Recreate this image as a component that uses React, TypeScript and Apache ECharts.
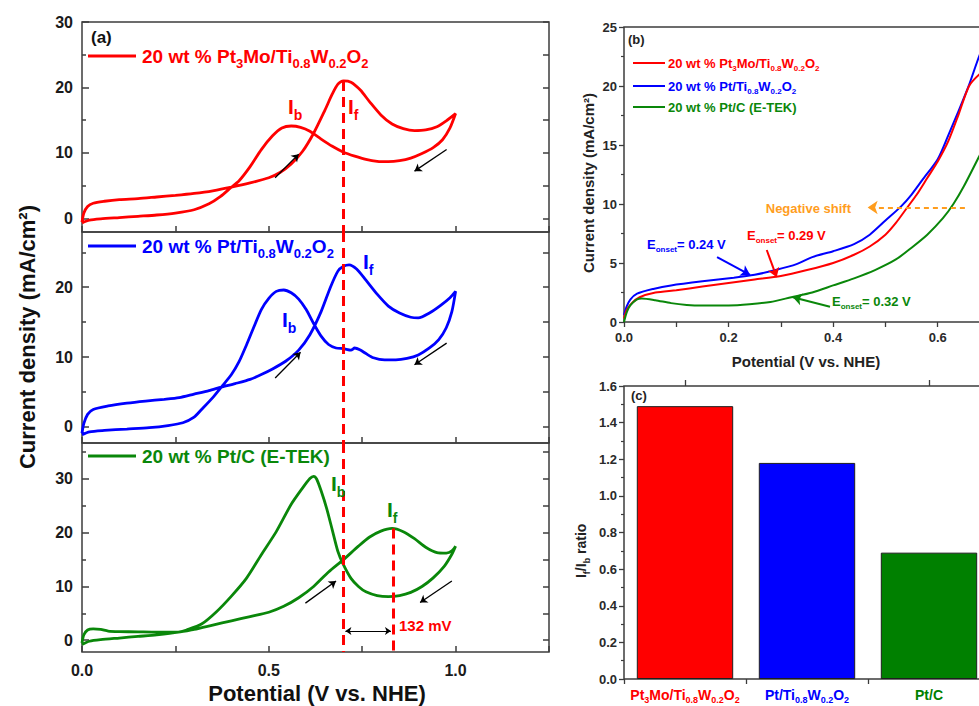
import React, { useEffect, useRef } from 'react';
import * as echarts from 'echarts';

// ---------- Panel (a): cyclic voltammograms (x: V vs NHE, y: mA/cm2) ----------
const cvRedForward: number[][] = [
  [0.0, -0.6], [0.005, 0.8], [0.015, 1.8], [0.03, 2.3], [0.06, 2.6], [0.1, 2.85], [0.15, 3.0], [0.2, 3.25],
  [0.25, 3.5], [0.3, 3.8], [0.35, 4.2], [0.4, 4.75], [0.45, 5.4], [0.5, 6.2], [0.53, 7.0], [0.56, 8.3],
  [0.59, 10.2], [0.62, 13.0], [0.65, 16.5], [0.67, 19.0], [0.685, 20.5], [0.7, 21.0], [0.72, 20.8],
  [0.745, 19.6], [0.77, 17.8], [0.8, 15.8], [0.83, 14.4], [0.86, 13.7], [0.89, 13.4], [0.92, 13.5],
  [0.95, 14.0], [0.975, 14.9], [1.0, 16.0],
];
const cvRedBackward: number[][] = [
  [1.0, 16.0], [0.985, 13.8], [0.965, 12.0], [0.94, 10.8], [0.91, 9.9], [0.88, 9.2], [0.85, 8.8],
  [0.82, 8.65], [0.79, 8.7], [0.76, 9.0], [0.73, 9.5], [0.7, 10.1], [0.67, 11.0], [0.64, 12.1],
  [0.61, 13.3], [0.585, 13.9], [0.56, 14.1], [0.535, 13.8], [0.51, 12.6], [0.48, 10.5], [0.45, 7.9],
  [0.42, 5.7], [0.4, 4.75], [0.37, 3.3], [0.34, 2.2], [0.3, 1.3], [0.25, 0.8], [0.2, 0.5], [0.15, 0.3],
  [0.1, 0.1], [0.05, -0.1], [0.02, -0.3], [0.0, -0.7],
];
const cvBlueForward: number[][] = [
  [0.0, -0.9], [0.005, 0.5], [0.015, 1.8], [0.03, 2.5], [0.07, 3.0], [0.12, 3.4], [0.17, 3.7], [0.22, 3.95],
  [0.26, 4.2], [0.3, 4.7], [0.34, 5.2], [0.373, 5.7], [0.41, 6.2], [0.45, 6.8], [0.48, 7.5], [0.51, 8.3],
  [0.545, 9.4], [0.58, 11.0], [0.61, 13.2], [0.64, 16.5], [0.665, 20.0], [0.685, 22.3], [0.7, 23.0],
  [0.715, 23.2], [0.735, 22.6], [0.76, 21.0], [0.79, 19.0], [0.82, 17.3], [0.85, 16.3], [0.88, 15.7],
  [0.9, 15.6], [0.93, 16.3], [0.96, 17.4], [0.985, 18.5], [1.0, 19.4],
];
const cvBlueBackward: number[][] = [
  [1.0, 19.4], [0.99, 16.5], [0.975, 14.2], [0.955, 12.5], [0.93, 11.3], [0.9, 10.3], [0.87, 9.8],
  [0.84, 9.6], [0.81, 9.6], [0.78, 9.9], [0.76, 10.5], [0.745, 11.0], [0.73, 11.3], [0.72, 11.0],
  [0.7, 11.2], [0.68, 11.3], [0.66, 11.8], [0.64, 13.0], [0.62, 14.8], [0.6, 16.8], [0.58, 18.3],
  [0.56, 19.2], [0.54, 19.6], [0.52, 19.4], [0.5, 18.4], [0.48, 16.8], [0.46, 14.3], [0.44, 11.7],
  [0.42, 9.3], [0.4, 7.5], [0.373, 5.7], [0.35, 4.2], [0.32, 2.5], [0.3, 1.4], [0.27, 0.6], [0.23, 0.2],
  [0.18, -0.1], [0.12, -0.3], [0.06, -0.5], [0.02, -0.7], [0.0, -1.1],
];
const cvGreenForward: number[][] = [
  [0.0, -0.5], [0.005, 1.0], [0.015, 1.9], [0.03, 2.1], [0.05, 2.0], [0.07, 1.7], [0.1, 1.6], [0.15, 1.55],
  [0.2, 1.5], [0.258, 1.5], [0.3, 2.0], [0.35, 2.8], [0.4, 3.6], [0.45, 4.4], [0.5, 5.2], [0.54, 6.3],
  [0.58, 7.9], [0.62, 10.0], [0.66, 12.7], [0.7, 15.0], [0.74, 17.5], [0.77, 19.2], [0.8, 20.3],
  [0.83, 20.8], [0.86, 20.2], [0.89, 18.9], [0.92, 17.3], [0.95, 16.3], [0.975, 16.2], [0.99, 16.6],
  [1.0, 17.5],
];
const cvGreenBackward: number[][] = [
  [1.0, 17.5], [0.99, 16.0], [0.97, 13.8], [0.94, 11.6], [0.91, 10.0], [0.88, 8.9], [0.85, 8.3],
  [0.82, 8.1], [0.79, 8.3], [0.76, 9.0], [0.74, 10.0], [0.72, 11.5], [0.7, 14.0], [0.685, 16.5],
  [0.67, 20.5], [0.655, 24.5], [0.64, 27.8], [0.628, 30.0], [0.62, 30.5], [0.61, 30.1], [0.59, 28.3],
  [0.56, 25.3], [0.52, 20.2], [0.48, 15.9], [0.44, 11.5], [0.4, 8.2], [0.36, 5.3], [0.32, 3.0],
  [0.28, 1.9], [0.258, 1.5], [0.2, 1.0], [0.15, 0.7], [0.1, 0.4], [0.05, 0.1], [0.02, -0.2], [0.0, -0.8],
];

// y ranges and ticks of the three stacked sub-panels of (a)
const aTopRange = [-2.1, 30];
const aMidRange = [-2.3, 27.9];
const aBotRange = [-2.2, 36.7];
const aTopLabels = [0, 10, 20, 30];
const aTopMinor = [5, 15, 25];
const aMidLabels = [0, 10, 20];
const aMidMinor = [5, 15, 25];
const aBotLabels = [0, 10, 20, 30];
const aBotMinor = [5, 15, 25, 35];

// peak potentials (dashed markers)
const eIb = 0.7;
const eIf = 0.832;

// ---------- Panel (b): linear sweeps ----------
const lsvRed: number[][] = [
  [0, 0.3], [0.005, 1.0], [0.015, 1.6], [0.03, 2.1], [0.06, 2.5], [0.1, 2.7], [0.15, 3.0], [0.2, 3.3],
  [0.25, 3.6], [0.3, 3.9], [0.35, 4.4], [0.4, 5.0], [0.44, 5.7], [0.47, 6.4], [0.5, 7.4], [0.52, 8.4],
  [0.54, 9.6], [0.56, 10.8], [0.58, 12.2], [0.6, 13.6], [0.62, 15.3], [0.64, 17.6], [0.66, 20.0],
  [0.68, 21.0], [0.7, 21.6],
];
const lsvBlue: number[][] = [
  [0, 0.6], [0.005, 1.3], [0.012, 1.9], [0.025, 2.4], [0.056, 2.8], [0.09, 3.1], [0.15, 3.45], [0.21, 3.75],
  [0.25, 4.0], [0.29, 4.4], [0.33, 4.9], [0.36, 5.5], [0.4, 6.0], [0.44, 6.6], [0.47, 7.4], [0.5, 8.6],
  [0.53, 9.8], [0.55, 10.8], [0.57, 12.0], [0.6, 13.8], [0.62, 15.8], [0.64, 17.9], [0.66, 20.1],
  [0.68, 22.6], [0.7, 24.5],
];
const lsvGreen: number[][] = [
  [0, 0.0], [0.005, 0.8], [0.012, 1.4], [0.024, 1.9], [0.034, 2.0], [0.06, 1.85], [0.09, 1.6], [0.12, 1.45],
  [0.15, 1.4], [0.2, 1.4], [0.24, 1.5], [0.28, 1.7], [0.32, 2.1], [0.36, 2.5], [0.4, 3.1], [0.44, 3.7],
  [0.48, 4.4], [0.52, 5.3], [0.55, 6.3], [0.58, 7.4], [0.61, 8.8], [0.63, 10.0], [0.65, 11.5],
  [0.68, 14.1], [0.7, 15.9],
];
const bXLabels = [0, 0.2, 0.4, 0.6];

// ---------- Panel (c): If/Ib ratio ----------
const barCategories = ['Pt3Mo/Ti0.8W0.2O2', 'Pt/Ti0.8W0.2O2', 'Pt/C'];
const barValues = [1.49, 1.18, 0.69];

const seriesNames = ['Pt3Mo/Ti0.8W0.2O2', 'Pt/Ti0.8W0.2O2', 'Pt/C (E-TEK)'];
const RED = '#ff0000';
const BLUE = '#0000ff';
const GREEN = '#0a870a';
const BAR_GREEN = '#008000';
const ORANGE = '#ff9d1e';
const AX = '#3c3c3c';
const FF = '"Liberation Sans", Arial, Helvetica, sans-serif';

type Part = [string, boolean];
function chem(s: string): Part[] {
  return s.split(/(\d+(?:\.\d+)?)/).filter((t) => t.length > 0).map((t) => [t, /^\d/.test(t)] as Part);
}
function richStr(parts: Part[], m: string, s: string) {
  return parts.map(([t, sub]) => `{${sub ? s : m}|${t}}`).join('');
}

function txt(x: number, y: number, parts: Part[], color: string, size: number, sub: number, opt: any = {}) {
  return {
    type: 'text',
    x,
    y,
    rotation: opt.rotation || 0,
    silent: true,
    z: 100,
    style: {
      text: richStr(parts, 'm', 's'),
      align: opt.align || 'left',
      verticalAlign: 'middle',
      rich: {
        m: { fontSize: size, fontWeight: 'bold', fontFamily: FF, fill: color, lineHeight: size + 2 },
        s: {
          fontSize: sub, fontWeight: 'bold', fontFamily: FF, fill: color, lineHeight: sub,
          padding: [Math.round(size * (opt.subDrop || 0.8)), 0, 0, 0],
        },
      },
    },
  };
}
function hline(x1: number, x2: number, y: number, color: string, w: number) {
  return { type: 'line', silent: true, z: 100, shape: { x1, y1: y, x2, y2: y }, style: { stroke: color, lineWidth: w } };
}

function seg(a: number[], b: number[], color: string, width: number, type: any, s0: string, s1: string, size = 8) {
  return [
    { coord: a, symbol: s0, symbolSize: size, lineStyle: { color, width, type }, itemStyle: { color } },
    { coord: b, symbol: s1, symbolSize: size, itemStyle: { color } },
  ];
}
function markLines(data: any[]) {
  return { silent: true, animation: false, label: { show: false }, emphasis: { disabled: true }, data };
}

function aYAxes(grid: number, range: number[], labels: number[], minors: number[]) {
  const base = {
    type: 'value', gridIndex: grid, min: range[0], max: range[1],
    splitLine: { show: false }, axisLine: { show: false, onZero: false },
  };
  const ts = { color: AX, width: 1.5 };
  return [
    {
      ...base, position: 'left',
      axisTick: { show: true, inside: true, length: 7, customValues: labels, lineStyle: ts },
      axisLabel: { show: true, customValues: labels, fontSize: 16, fontWeight: 'bold', fontFamily: FF, color: '#1a1a1a', margin: 9 },
    },
    {
      ...base, position: 'left',
      axisTick: { show: true, inside: true, length: 4, customValues: minors, lineStyle: ts },
      axisLabel: { show: false },
    },
    {
      ...base, position: 'right',
      axisTick: { show: true, inside: true, length: 6, customValues: [...labels, ...minors], lineStyle: ts },
      axisLabel: { show: false },
    },
  ];
}
function aXAxis(grid: number, labels: boolean) {
  return {
    type: 'value', gridIndex: grid, min: 0, max: 1.25, interval: 0.25,
    splitLine: { show: false }, axisLine: { show: false, onZero: false },
    axisTick: { show: true, inside: true, length: 6, lineStyle: { color: AX, width: 1.5 } },
    axisLabel: labels
      ? {
          show: true, fontSize: 16, fontWeight: 'bold', fontFamily: FF, color: '#1a1a1a', margin: 10,
          formatter: (v: number) => (Math.abs(v * 2 - Math.round(v * 2)) < 1e-6 && v <= 1.0001 ? v.toFixed(1) : ''),
        }
      : { show: false },
  };
}

const lineBase = { type: 'line', showSymbol: false, symbol: 'none', smooth: 0.25, silent: true, clip: true };

export default function App() {
  const ref = useRef<HTMLDivElement>(null);
  useEffect(() => {
    if (!ref.current) return;
    const chart = echarts.init(ref.current, undefined, { renderer: 'svg' });
    const gridBase = { show: true, borderColor: AX, borderWidth: 1.5, containLabel: false, outerBoundsMode: 'none' };
    const catColors = [RED, BLUE, BAR_GREEN];
    const catRich: any = {};
    catColors.forEach((c, i) => {
      catRich['m' + i] = { fontSize: 14, fontWeight: 'bold', fontFamily: FF, color: c, lineHeight: 16 };
      catRich['s' + i] = { fontSize: 9, fontWeight: 'bold', fontFamily: FF, color: c, lineHeight: 9, padding: [10, 0, 0, 0] };
    });
    const bTick = { show: true, length: 5, lineStyle: { color: AX, width: 1.3 } };
    const bLabel = { fontSize: 13, fontWeight: 'bold', fontFamily: FF, color: '#2a2a2a' };

    const option: any = {
      animation: false,
      backgroundColor: '#ffffff',
      grid: [
        { ...gridBase, left: 82, top: 22, width: 467, height: 210 },
        { ...gridBase, left: 82, top: 232, width: 467, height: 211 },
        { ...gridBase, left: 82, top: 443, width: 467, height: 209 },
        { ...gridBase, left: 624, top: 27, width: 366, height: 295 },
        { ...gridBase, left: 624, top: 386, width: 366, height: 293 },
      ],
      xAxis: [
        aXAxis(0, false),
        aXAxis(1, false),
        aXAxis(2, true),
        {
          type: 'value', gridIndex: 3, min: 0, max: 0.7, interval: 0.1,
          splitLine: { show: false }, axisLine: { show: false, onZero: false },
          axisTick: bTick,
          axisLabel: { ...bLabel, customValues: bXLabels, margin: 9, formatter: (v: number) => v.toFixed(1) },
        },
        {
          type: 'category', gridIndex: 4, data: barCategories,
          axisLine: { show: false, onZero: false }, axisTick: bTick,
          axisLabel: {
            interval: 0, margin: 8,
            formatter: (v: string, i: number) => richStr(chem(v), 'm' + i, 's' + i),
            rich: catRich,
          },
        },
        {
          type: 'category', gridIndex: 4, data: barCategories,
          axisLine: { show: false, onZero: false },
          axisTick: { ...bTick, alignWithLabel: true, length: 6 },
          axisLabel: { show: false },
        },
      ],
      yAxis: [
        ...aYAxes(0, aTopRange, aTopLabels, aTopMinor),
        ...aYAxes(1, aMidRange, aMidLabels, aMidMinor),
        ...aYAxes(2, aBotRange, aBotLabels, aBotMinor),
        {
          type: 'value', gridIndex: 3, min: 0, max: 25, interval: 5,
          splitLine: { show: false }, axisLine: { show: false, onZero: false },
          axisTick: bTick, minorTick: { show: true, splitNumber: 2, length: 3, lineStyle: { color: AX, width: 1.2 } },
          axisLabel: { ...bLabel, margin: 7 },
        },
        {
          type: 'value', gridIndex: 4, min: 0, max: 1.6, interval: 0.2,
          splitLine: { show: false }, axisLine: { show: false, onZero: false },
          axisTick: bTick, minorTick: { show: true, splitNumber: 2, length: 3, lineStyle: { color: AX, width: 1.2 } },
          axisLabel: { ...bLabel, margin: 7, formatter: (v: number) => v.toFixed(1) },
        },
      ],
      series: [
        {
          ...lineBase, name: '20 wt % ' + seriesNames[0], xAxisIndex: 0, yAxisIndex: 0,
          data: [...cvRedForward, ...cvRedBackward.slice(1)],
          lineStyle: { color: RED, width: 2.8 },
          markLine: markLines([
            seg([eIb, 21.0], [eIb, aTopRange[0]], RED, 3, [10, 6], 'none', 'none'),
            seg([0.517, 6.2], [0.58, 9.8], '#000', 1.3, 'solid', 'none', 'arrow', 7),
            seg([0.976, 10.5], [0.89, 7.2], '#000', 1.3, 'solid', 'none', 'arrow', 7),
          ]),
        },
        {
          ...lineBase, name: '20 wt % ' + seriesNames[1], xAxisIndex: 1, yAxisIndex: 3,
          data: [...cvBlueForward, ...cvBlueBackward.slice(1)],
          lineStyle: { color: BLUE, width: 2.8 },
          markLine: markLines([
            seg([eIb, aMidRange[1]], [eIb, aMidRange[0]], RED, 3, [10, 6], 'none', 'none'),
            seg([0.517, 7.0], [0.585, 10.7], '#000', 1.3, 'solid', 'none', 'arrow', 7),
            seg([0.976, 12.0], [0.89, 8.9], '#000', 1.3, 'solid', 'none', 'arrow', 7),
          ]),
        },
        {
          ...lineBase, name: '20 wt % ' + seriesNames[2], xAxisIndex: 2, yAxisIndex: 6,
          data: [...cvGreenForward, ...cvGreenBackward.slice(1)],
          lineStyle: { color: GREEN, width: 2.8 },
          markLine: markLines([
            seg([eIb, aBotRange[1]], [eIb, aBotRange[0]], RED, 3, [10, 6], 'none', 'none'),
            seg([eIf, 20.8], [eIf, aBotRange[0]], RED, 3, [10, 6], 'none', 'none'),
            seg([0.598, 6.9], [0.68, 11.0], '#000', 1.3, 'solid', 'none', 'arrow', 7),
            seg([0.99, 11.0], [0.905, 7.0], '#000', 1.3, 'solid', 'none', 'arrow', 7),
            seg([eIb + 0.005, 1.7], [eIf - 0.005, 1.7], '#000', 1.2, 'solid', 'arrow', 'arrow', 6),
          ]),
        },
        {
          ...lineBase, name: 'b-' + seriesNames[1], xAxisIndex: 3, yAxisIndex: 9, data: lsvBlue,
          lineStyle: { color: BLUE, width: 2 },
        },
        {
          ...lineBase, name: 'b-' + seriesNames[0], xAxisIndex: 3, yAxisIndex: 9, data: lsvRed,
          lineStyle: { color: RED, width: 2 },
        },
        {
          ...lineBase, name: 'b-' + seriesNames[2], xAxisIndex: 3, yAxisIndex: 9, data: lsvGreen,
          lineStyle: { color: GREEN, width: 2 },
          markLine: markLines([
            seg([0.652, 9.7], [0.466, 9.7], ORANGE, 2, [5, 4], 'none', 'arrow', 10),
            seg([0.178, 5.5], [0.241, 4.0], BLUE, 2, 'solid', 'none', 'arrow', 9),
            seg([0.273, 6.1], [0.292, 3.8], RED, 2, 'solid', 'none', 'arrow', 9),
            seg([0.394, 1.3], [0.323, 2.1], GREEN, 2, 'solid', 'none', 'arrow', 9),
          ]),
        },
        {
          type: 'bar', name: 'If/Ib ratio', xAxisIndex: 4, yAxisIndex: 10, silent: true,
          barCategoryGap: '21%',
          data: barValues.map((v, i) => ({ value: v, itemStyle: { color: catColors[i], borderColor: '#1e1e1e', borderWidth: 1 } })),
        },
      ],
      graphic: [
        // panel (a)
        txt(91, 37, [['(a)', false]], '#111', 17, 10),
        hline(88, 136, 56, RED, 3),
        txt(142, 56, [['20 wt % ', false], ...chem(seriesNames[0])], RED, 19, 13),
        hline(88, 136, 246, BLUE, 3),
        txt(142, 246, [['20 wt % ', false], ...chem(seriesNames[1])], BLUE, 19, 13),
        hline(88, 136, 456, GREEN, 3),
        txt(142, 456, [['20 wt % ', false], ...chem(seriesNames[2])], GREEN, 19, 13),
        txt(288, 106, [['I', false], ['b', true]], RED, 21, 14),
        txt(348, 106, [['I', false], ['f', true]], RED, 21, 14),
        txt(282, 319, [['I', false], ['b', true]], BLUE, 21, 14),
        txt(363, 261, [['I', false], ['f', true]], BLUE, 21, 14),
        txt(331, 483, [['I', false], ['b', true]], GREEN, 21, 14),
        txt(387, 509, [['I', false], ['f', true]], GREEN, 21, 14),
        txt(399, 625, [['132 mV', false]], RED, 15, 10),
        txt(27, 337, [['Current density (mA/cm²)', false]], '#111', 22, 14, { rotation: Math.PI / 2, align: 'center' }),
        txt(317, 693, [['Potential (V vs. NHE)', false]], '#111', 22, 14, { align: 'center' }),
        // panel (b)
        txt(628, 39, [['(b)', false]], '#222', 13, 8),
        hline(633, 665, 63, RED, 2),
        txt(668, 63, [['20 wt % ', false], ...chem(seriesNames[0])], RED, 13, 8),
        hline(633, 665, 86, BLUE, 2),
        txt(668, 86, [['20 wt % ', false], ...chem(seriesNames[1])], BLUE, 13, 8),
        hline(633, 665, 107, GREEN, 2),
        txt(668, 107, [['20 wt % ', false], ...chem(seriesNames[2])], GREEN, 13, 8),
        txt(851, 208, [['Negative shift', false]], ORANGE, 13, 8, { align: 'right' }),
        txt(647, 244, [['E', false], ['onset', true], ['= 0.24 V', false]], BLUE, 13, 8),
        txt(747, 235, [['E', false], ['onset', true], ['= 0.29 V', false]], RED, 13, 8),
        txt(832, 301, [['E', false], ['onset', true], ['= 0.32 V', false]], GREEN, 13, 8),
        txt(588, 183, [['Current density (mA/cm²)', false]], '#222', 15, 10, { rotation: Math.PI / 2, align: 'center' }),
        txt(806, 361, [['Potential (V vs. NHE)', false]], '#222', 15, 10, { align: 'center' }),
        // panel (c)
        txt(631, 395, [['(c)', false]], '#222', 13, 8),
        txt(581, 578, [['I', false], ['f', true], ['/I', false], ['b', true], [' ratio', false]], '#222', 14, 9, { rotation: Math.PI / 2, align: 'left' }),
      ],
    };
    chart.setOption(option);
    return () => chart.dispose();
  }, []);

  return (
    <div style={{ position: 'fixed', left: 0, top: 0, width: 979, height: 706, overflow: 'hidden', background: '#fff' }}>
      <div ref={ref} style={{ width: 1000, height: 706 }} />
    </div>
  );
}
